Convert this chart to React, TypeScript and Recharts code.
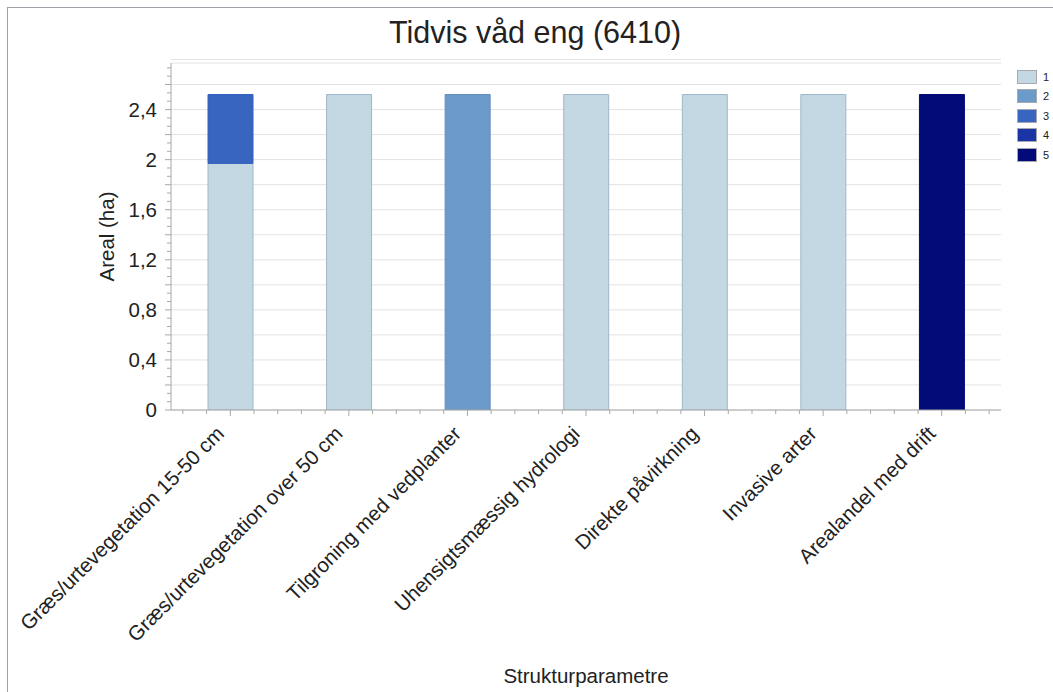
import { BarChart, Bar, XAxis, YAxis, CartesianGrid } from 'recharts'

const categories = [
  'Græs/urtevegetation 15-50 cm',
  'Græs/urtevegetation over 50 cm',
  'Tilgroning med vedplanter',
  'Uhensigtsmæssig hydrologi',
  'Direkte påvirkning',
  'Invasive arter',
  'Arealandel med drift',
]

const series1 = [1.97, 2.52, null, 2.52, 2.52, 2.52, null]
const series2 = [null, null, 2.52, null, null, null, null]
const series3 = [0.55, null, null, null, null, null, null]
const series4 = [null, null, null, null, null, null, null]
const series5 = [null, null, null, null, null, null, 2.52]

const seriesNames = ['1', '2', '3', '4', '5']
const seriesFills = ['#c4d8e4', '#6c9bca', '#3765c0', '#1b34a6', '#030b78']
const seriesStrokes = ['#9db7c9', '#5f8dbd', '#3461bb', '#1a33a3', '#030b78']

const yMax = 2.772
const yTicks = Array.from({ length: 42 }, (_, i) => i / 15)
const gridValues = Array.from({ length: 14 }, (_, i) => (i + 1) * 0.2)

const chartData = categories.map((name, i) => ({
  name,
  s1: series1[i],
  s2: series2[i],
  s3: series3[i],
  s4: series4[i],
  s5: series5[i],
}))

const fontFamily = '"Liberation Sans", Arial, sans-serif'

function YTick({ x, y, payload }: any) {
  const v = payload.value
  const onGrid = Math.abs(v * 5 - Math.round(v * 5)) < 1e-6
  const labelled = Math.abs(v * 2.5 - Math.round(v * 2.5)) < 1e-6
  const len = onGrid ? 6 : 4
  const label = (Math.round(v * 10) / 10).toString().replace('.', ',')
  return (
    <g>
      <line x1={x - len} x2={x} y1={y} y2={y} stroke="#a8a8a8" />
      {labelled && (
        <text x={x - 14} y={y + 7} textAnchor="end" fontSize={20.5} fill="#222" fontFamily={fontFamily}>
          {label}
        </text>
      )}
    </g>
  )
}

function XTick({ x, y, payload }: any) {
  const bw = 830 / categories.length
  const offs = [-2, -1, 0, 1, 2]
  const tx = x - 5
  const ty = y + 25
  return (
    <g>
      {offs.map(k => (
        <line key={k} x1={x + (k * bw) / 5} x2={x + (k * bw) / 5} y1={y} y2={y + (k === 0 ? 6 : 4)} stroke="#a8a8a8" />
      ))}
      <text
        x={tx}
        y={ty}
        textAnchor="end"
        fontSize={20.5}
        fill="#222"
        fontFamily={fontFamily}
        transform={`rotate(-45 ${tx} ${ty})`}
      >
        {payload.value}
      </text>
    </g>
  )
}

export default function App() {
  const keys = ['s1', 's2', 's3', 's4', 's5']
  return (
    <div style={{ position: 'absolute', left: 0, top: 0, width: 1053, height: 692, background: '#fff', fontFamily }}>
      <div style={{ position: 'absolute', left: 7, top: 7, right: 0, bottom: 0, borderLeft: '1px solid #a0a0a8', borderTop: '1px solid #a0a0a8' }} />
      <div style={{ position: 'absolute', left: 0, width: 1070, top: 15, textAlign: 'center', fontSize: 30.5, color: '#222' }}>
        Tidvis våd eng (6410)
      </div>
      <div style={{ position: 'absolute', left: 1017, top: 67 }}>
        {seriesNames.map((n, i) => (
          <div key={n} style={{ display: 'flex', alignItems: 'center', height: 19.5 }}>
            <div style={{ width: 18, height: 12, background: seriesFills[i], border: '1px solid #a8a8b0' }} />
            <span style={{ fontSize: 11, marginLeft: 6, color: '#222' }}>{n}</span>
          </div>
        ))}
      </div>
      <BarChart
        width={1053}
        height={692}
        data={chartData}
        margin={{ top: 63, right: 52, left: 111, bottom: 0 }}
        barSize={45}
        style={{ position: 'absolute', left: 0, top: 0, overflow: 'visible' }}
      >
        <CartesianGrid yAxisId="grid" vertical={false} stroke="#e3e3e3" />
        <XAxis
          dataKey="name"
          interval={0}
          tickSize={0}
          tickMargin={0}
          height={282}
          tick={<XTick />}
          axisLine={{ stroke: '#a8a8a8' }}
          label={{ value: 'Strukturparametre', position: 'insideBottom', offset: 9, fontSize: 20.5, fill: '#222', fontFamily }}
        />
        <XAxis xAxisId="top" dataKey="name" orientation="top" height={0} tick={false} tickLine={false} axisLine={{ stroke: '#c8c8c8' }} />
        <YAxis yAxisId="grid" hide domain={[0, yMax]} allowDataOverflow ticks={gridValues} interval={0} />
        <YAxis
          type="number"
          domain={[0, yMax]}
          allowDataOverflow
          ticks={yTicks}
          interval={0}
          tickSize={0}
          tickMargin={0}
          width={60}
          tick={<YTick />}
          axisLine={{ stroke: '#a8a8a8' }}
          label={{ value: 'Areal (ha)', angle: -90, position: 'insideLeft', offset: -4, fontSize: 20.5, fill: '#222', fontFamily, style: { textAnchor: 'middle' } }}
        />
        <YAxis yAxisId="right" orientation="right" domain={[0, yMax]} width={0} tick={false} tickLine={false} axisLine={{ stroke: '#c8c8c8' }} />
        {keys.map((k, i) => (
          <Bar
            key={k}
            dataKey={k}
            name={seriesNames[i]}
            stackId="a"
            fill={seriesFills[i]}
            stroke={seriesStrokes[i]}
            isAnimationActive={false}
          />
        ))}
      </BarChart>
    </div>
  )
}
